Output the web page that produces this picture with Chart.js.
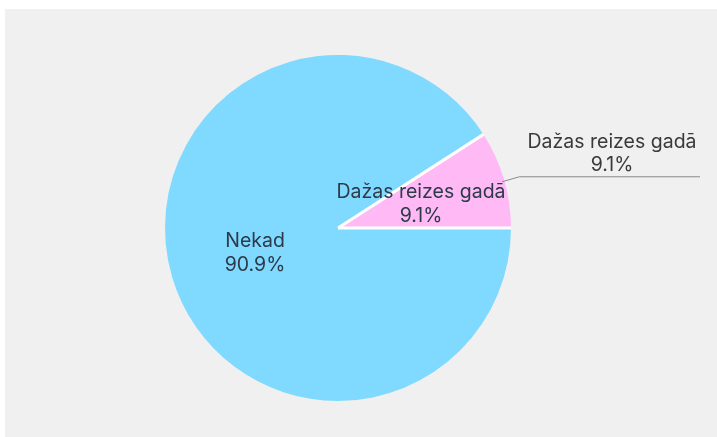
<!DOCTYPE html>
<html>
<head>
<meta charset="utf-8">
<script src="https://cdn.jsdelivr.net/npm/chart.js@4.4.1/dist/chart.umd.min.js"></script>
<style>
  html, body { margin: 0; padding: 0; background: #ffffff; }
  #wrap { position: relative; width: 717px; height: 437px; }
</style>
</head>
<body>
<div id="wrap"><canvas id="c" width="717" height="437"></canvas></div>
<script>
const categories = ["Nekad", "Dažas reizes gadā"];
const percentages = [90.9, 9.1];
const sliceColors = ["#80D9FE", "#FFBAF6"];

const FONT = '19.5px Inter, "Noto Sans", sans-serif';

const bgPlugin = {
  id: 'bgPanel',
  beforeDraw(chart) {
    const ctx = chart.ctx;
    ctx.save();
    ctx.fillStyle = '#f0f0f0';
    ctx.fillRect(5, 9, chart.width - 5, chart.height - 9);
    ctx.restore();
  }
};

const labelPlugin = {
  id: 'sliceLabels',
  afterDatasetsDraw(chart) {
    const ctx = chart.ctx;
    const meta = chart.getDatasetMeta(0);
    const ds = chart.data.datasets[0];
    ctx.save();
    // white separators between slices
    ctx.strokeStyle = '#ffffff';
    ctx.lineWidth = 3;
    meta.data.forEach((arc) => {
      ctx.beginPath();
      ctx.moveTo(arc.x, arc.y);
      ctx.lineTo(arc.x + Math.cos(arc.startAngle) * arc.outerRadius,
                 arc.y + Math.sin(arc.startAngle) * arc.outerRadius);
      ctx.stroke();
    });
    ctx.font = FONT;
    ctx.textAlign = 'center';
    ctx.textBaseline = 'middle';
    meta.data.forEach((arc, i) => {
      const p = arc.tooltipPosition();
      const pct = ds.data[i].toFixed(1) + '%';
      ctx.fillStyle = '#2c3a4a';
      ctx.fillText(chart.data.labels[i], p.x, p.y - 11);
      ctx.fillText(pct, p.x, p.y + 13);
    });
    // outside label for the small slice
    const i = 1;
    const arc = meta.data[i];
    const mid = (arc.startAngle + arc.endAngle) / 2;
    const r = arc.outerRadius;
    const x0 = arc.x + Math.cos(mid) * (r - 2);
    const y0 = arc.y + Math.sin(mid) * (r - 2) + 2;
    const x1 = arc.x + Math.cos(mid) * (r + 16);
    const y1 = y0 - 5;
    const x2 = chart.width - 17;
    ctx.strokeStyle = '#8a8a8a';
    ctx.lineWidth = 1;
    ctx.beginPath();
    ctx.moveTo(x0, y0);
    ctx.lineTo(x1, y1);
    ctx.lineTo(x2, y1);
    ctx.stroke();
    const tx = 612;
    ctx.fillStyle = '#3a3a3a';
    ctx.fillText(chart.data.labels[i], tx, y1 - 35);
    ctx.fillText(ds.data[i].toFixed(1) + '%', tx, y1 - 12);
    ctx.restore();
  }
};

new Chart(document.getElementById('c'), {
  type: 'pie',
  data: {
    labels: categories,
    datasets: [{
      data: percentages,
      backgroundColor: sliceColors,
      borderWidth: 0,
      hoverOffset: 0,
      radius: 173
    }]
  },
  options: {
    responsive: false,
    animation: false,
    rotation: 90,
    layout: { padding: { left: 0, right: 41, top: 19, bottom: 0 } },
    plugins: {
      legend: { display: false },
      tooltip: { enabled: false }
    }
  },
  plugins: [bgPlugin, labelPlugin]
});
</script>
</body>
</html>
